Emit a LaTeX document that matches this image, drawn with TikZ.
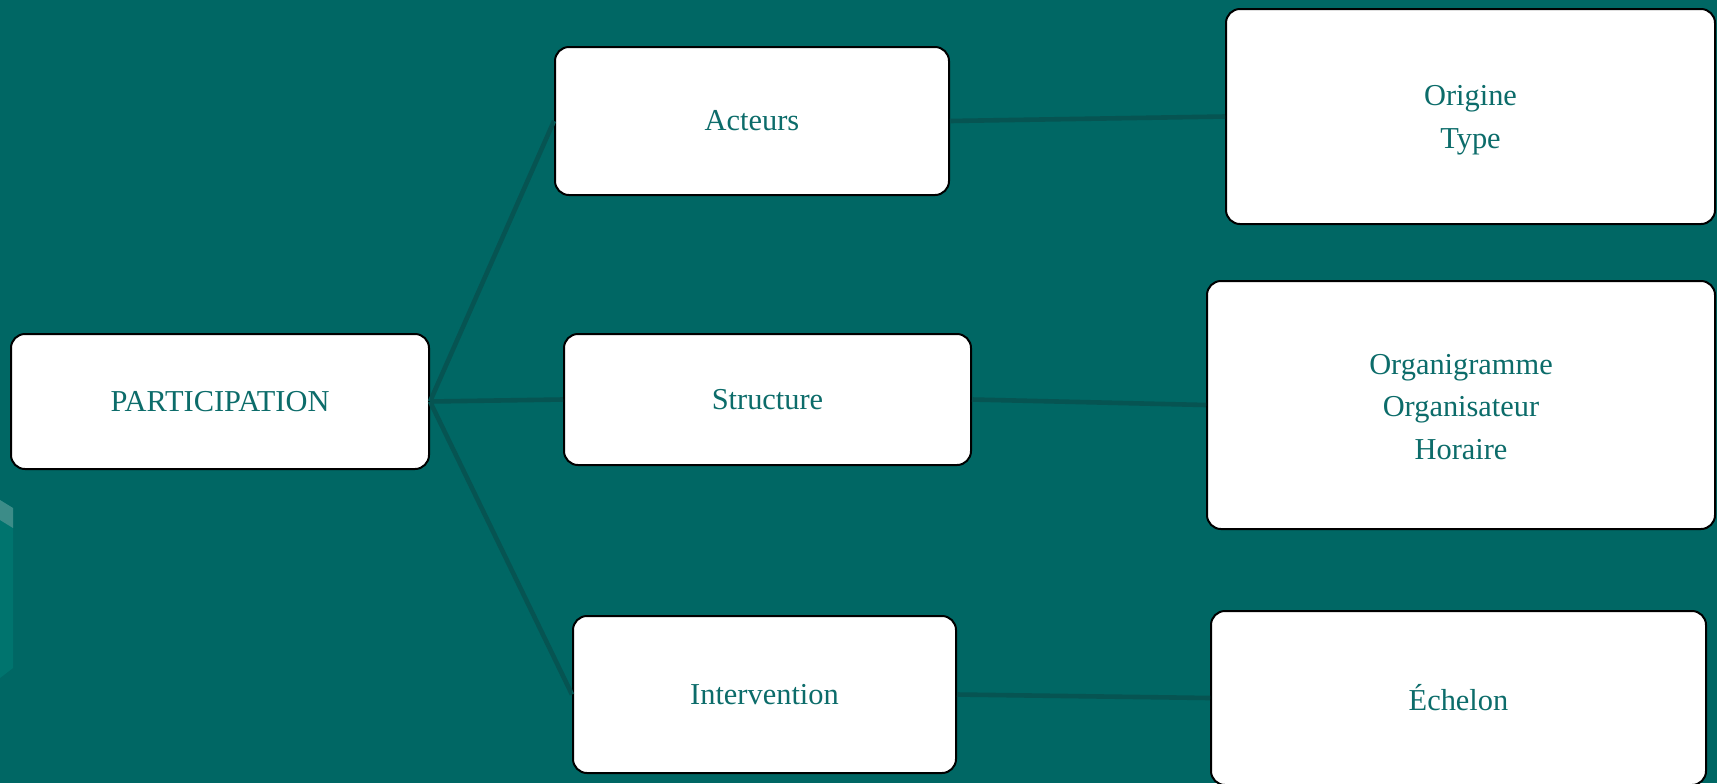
\documentclass[tikz,border=0pt]{standalone}
\usepackage{fontspec}
\setmainfont{Liberation Serif}
\definecolor{bg}{RGB}{0,103,100}
\definecolor{txt}{RGB}{12,108,106}
\definecolor{lnk}{RGB}{6,84,82}
\definecolor{strip}{RGB}{0,116,110}
\definecolor{striptop}{RGB}{60,140,136}
\begin{document}
\begin{tikzpicture}[x=0.5pt,y=-0.5pt,
  box/.style={draw=black, line width=1pt, fill=white, rounded corners=7pt,
    inner sep=0pt, align=center, text=txt, font=\fontsize{15.2}{21.3}\selectfont},
  link/.style={draw=lnk, line width=2.3pt}]
\useasboundingbox (0,0) rectangle (1717,783);
\clip (0,0) rectangle (1717,783);
\fill[bg] (0,0) rectangle (1717,783);
% left decorative strip
\fill[strip] (0,500) -- (13,508) -- (13,668) -- (0,678) -- cycle;
\fill[striptop] (0,500) -- (13,508) -- (13,528) -- (0,520) -- cycle;
% nodes
\node[box, minimum width=209pt, minimum height=67.5pt] (P) at (220,401.5) {PARTICIPATION};
\node[box, minimum width=197pt, minimum height=74pt] (A) at (752,121) {Acteurs};
\node[box, minimum width=203.5pt, minimum height=65.5pt] (S) at (767.5,399.5) {Structure};
\node[box, minimum width=191.5pt, minimum height=78.5pt] (I) at (764.5,694.5) {Intervention};
\node[box, minimum width=244.5pt, minimum height=107.5pt] (O) at (1470.5,116.5) {\rule{0pt}{14pt}Origine\\Type};
\node[box, minimum width=254pt, minimum height=124pt] (G) at (1461,405) {\rule{0pt}{12pt}Organigramme\\Organisateur\\Horaire};
\node[box, minimum width=247.5pt, minimum height=87pt] (E) at (1458.5,698) {Échelon};
% connectors
\draw[link] (P.east) -- (A.west);
\draw[link] (P.east) -- (S.west);
\draw[link] (P.east) -- (I.west);
\draw[link] (A.east) -- (O.west);
\draw[link] (S.east) -- (G.west);
\draw[link] (I.east) -- (E.west);
\end{tikzpicture}
\end{document}
